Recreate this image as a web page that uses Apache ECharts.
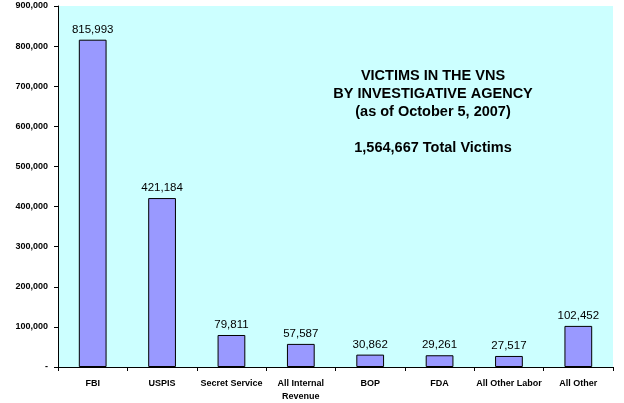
<!DOCTYPE html>
<html>
<head>
<meta charset="utf-8">
<script src="https://cdn.jsdelivr.net/npm/echarts@6/dist/echarts.min.js"></script>
<style>
  html, body { margin: 0; padding: 0; background: #fff; }
  #chart { width: 624px; height: 403px; }
</style>
</head>
<body>
<div id="chart"></div>
<script>
// agencies and victim counts
var agencies = ['FBI', 'USPIS', 'Secret Service', 'All Internal\nRevenue', 'BOP', 'FDA', 'All Other Labor', 'All Other'];
var victims = [815993, 421184, 79811, 57587, 30862, 29261, 27517, 102452];
var yTicks = [0, 100000, 200000, 300000, 400000, 500000, 600000, 700000, 800000, 900000];

var font = 'Arial, "Liberation Sans", sans-serif';

function fmt(v) {
  return v === 0 ? '-' : v.toLocaleString('en-US');
}

var myChart = echarts.init(document.getElementById('chart'));
myChart.setOption({
  animation: false,
  title: {
    text: 'VICTIMS IN THE VNS\nBY INVESTIGATIVE AGENCY\n(as of October 5, 2007)\n\n1,564,667 Total Victims',
    left: 428,
    top: 62,
    textAlign: 'center',
    textStyle: {
      fontFamily: font,
      fontSize: 14.5,
      fontWeight: 'bold',
      color: '#000',
      lineHeight: 18
    }
  },
  grid: {
    left: 58,
    right: 11,
    top: 6,
    bottom: 34,
    show: true,
    backgroundColor: '#CCFFFF',
    borderWidth: 0
  },
  xAxis: {
    type: 'category',
    data: agencies,
    axisLine: { lineStyle: { color: '#000', width: 1 } },
    axisTick: { show: true, length: 4, lineStyle: { color: '#000' } },
    axisLabel: {
      interval: 0,
      margin: 10,
      fontFamily: font,
      fontSize: 9,
      fontWeight: 'bold',
      color: '#000',
      lineHeight: 13
    }
  },
  yAxis: {
    type: 'value',
    min: yTicks[0],
    max: yTicks[yTicks.length - 1],
    interval: 100000,
    splitLine: { show: false },
    axisLine: { show: true, lineStyle: { color: '#000', width: 1 } },
    axisTick: { show: true, length: 4, lineStyle: { color: '#000' } },
    axisLabel: {
      margin: 10,
      fontFamily: font,
      fontSize: 9,
      fontWeight: 'bold',
      color: '#000',
      formatter: fmt
    }
  },
  series: [{
    type: 'bar',
    data: victims,
    barWidth: '40%',
    itemStyle: {
      color: '#9999FF',
      borderColor: '#000',
      borderWidth: 1
    },
    label: {
      show: true,
      position: 'top',
      distance: 4,
      fontFamily: font,
      fontSize: 11.5,
      color: '#000',
      formatter: function (p) { return fmt(p.value); }
    }
  }]
});
</script>
</body>
</html>
